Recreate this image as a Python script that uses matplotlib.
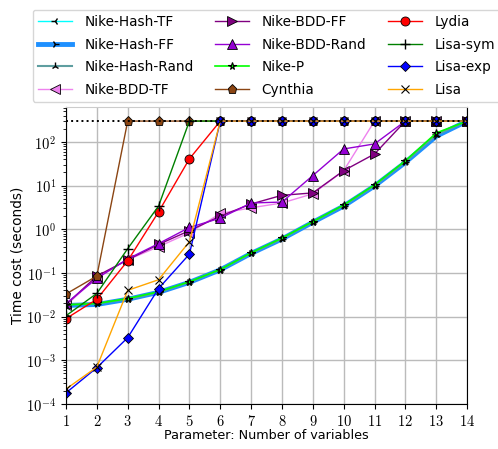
import matplotlib
matplotlib.use('Agg')
import matplotlib.pyplot as plt
import matplotlib.ticker as ticker
import numpy as np

plt.rcParams['mathtext.fontset'] = 'cm'
plt.rcParams['font.family'] = 'DejaVu Sans'

# 参数：变量个数
n_vars = np.arange(1, 15)
timeout = 300
y_decades = [-4, -3, -2, -1, 0, 1, 2]

hash_tf = [0.019, 0.020, 0.025, 0.036, 0.062, 0.12, 0.28, 0.62, 1.5, 3.5, 10, 35, 150, 300]
hash_ff = [0.018, 0.019, 0.025, 0.036, 0.061, 0.118, 0.28, 0.60, 1.45, 3.4, 9.8, 34, 135, 300]
hash_rand = [0.019, 0.020, 0.025, 0.036, 0.062, 0.12, 0.28, 0.61, 1.48, 3.5, 10, 35, 145, 300]
bdd_tf = [0.018, 0.080, 0.20, 0.40, 0.83, 2.3, 3.1, 4.0, 6.5, 22, 300, 300, 300, 300]
bdd_ff = [0.019, 0.085, 0.20, 0.45, 0.93, 2.0, 3.8, 6.0, 6.8, 22, 53, 300, 300, 300]
bdd_rand = [0.020, 0.075, 0.21, 0.47, 1.1, 1.8, 4.0, 4.2, 17, 69, 90, 300, 300, 300]
nike_p = [0.0186, 0.020, 0.026, 0.037, 0.063, 0.12, 0.29, 0.63, 1.5, 3.6, 10.4, 37, 160, 300]
cynthia = [0.033, 0.085, 300, 300, 300, 300, 300, 300, 300, 300, 300, 300, 300, 300]
lydia = [0.009, 0.025, 0.19, 2.5, 41, 300, 300, 300, 300, 300, 300, 300, 300, 300]
lisa_sym = [0.0105, 0.034, 0.36, 3.4, 300, 300, 300, 300, 300, 300, 300, 300, 300, 300]
lisa_exp = [0.00018, 0.00068, 0.0033, 0.044, 0.27, 300, 300, 300, 300, 300, 300, 300, 300, 300]
lisa = [0.00022, 0.0007, 0.040, 0.070, 0.52, 300, 300, 300, 300, 300, 300, 300, 300, 300]

fig = plt.figure(figsize=(4.98, 4.49), dpi=100)
ax = fig.add_axes([0.1325, 0.1002, 0.8055, 0.6615])

ax.plot(n_vars, hash_tf, c='cyan', marker='3', mec='k', ms=6, lw=1, label='Nike-Hash-TF')
ax.plot(n_vars, hash_ff, c='dodgerblue', marker='4', mec='k', ms=6, lw=3.5, label='Nike-Hash-FF')
ax.plot(n_vars, hash_rand, c='cadetblue', marker='2', mec='k', ms=6, lw=1.5, label='Nike-Hash-Rand')
ax.plot(n_vars, bdd_tf, c='violet', marker='<', mec='k', mew=0.6, ms=6.5, lw=1, label='Nike-BDD-TF')
ax.plot(n_vars, bdd_ff, c='purple', marker='>', mec='k', mew=0.6, ms=6.5, lw=1, label='Nike-BDD-FF')
ax.plot(n_vars, bdd_rand, c='darkviolet', marker='^', mec='k', mew=0.6, ms=6.5, lw=1, label='Nike-BDD-Rand')
ax.plot(n_vars, nike_p, c='lime', marker='*', mec='k', mew=0.8, ms=5.5, lw=1.2, label='Nike-P')
ax.plot(n_vars, cynthia, c='saddlebrown', marker='p', mec='k', mew=0.6, ms=6.5, lw=1, label='Cynthia')
ax.plot(n_vars, lydia, c='red', marker='o', mec='k', mew=0.6, ms=6.5, lw=1, label='Lydia')
ax.plot(n_vars, lisa_sym, c='green', marker='+', mec='k', ms=6.5, lw=1, label='Lisa-sym')
ax.plot(n_vars, lisa_exp, c='blue', marker='D', mec='k', mew=0.6, ms=5.5, lw=1, label='Lisa-exp')
ax.plot(n_vars, lisa, c='orange', marker='x', mec='k', mew=0.8, ms=6, lw=1, label='Lisa')
ax.axhline(timeout, color='k', ls=':', lw=1.4, zorder=5)

ax.set_yscale('log')
ax.set_xlim(1, 14)
ax.set_ylim(1e-4, 630)
ax.set_xticks(n_vars)
ax.xaxis.set_major_formatter(ticker.FuncFormatter(lambda x, pos: '$%d$' % x))
ax.set_yticks([10.0 ** d for d in y_decades])
ax.set_yticklabels(['$10^{%d}$' % d for d in y_decades])
ax.yaxis.set_minor_locator(ticker.LogLocator(base=10, subs=np.arange(2, 10), numticks=20))
ax.yaxis.set_minor_formatter(ticker.NullFormatter())
ax.tick_params(labelsize=10.5)
ax.grid(True, which='major', color='#bbbbbb', lw=1)
ax.spines['top'].set_color('#cccccc')

ax.set_xlabel('Parameter: Number of variables', fontsize=9.2, labelpad=0)
ax.set_ylabel('Time cost (seconds)', fontsize=9.8, labelpad=1)

ax.legend(loc='lower center', bbox_to_anchor=(0.5, 1.017), ncol=3, fontsize=9.8,
          handlelength=2.5, handletextpad=0.9, columnspacing=1.6, labelspacing=0.62,
          borderaxespad=0)

fig.savefig('out.png', dpi=100)
